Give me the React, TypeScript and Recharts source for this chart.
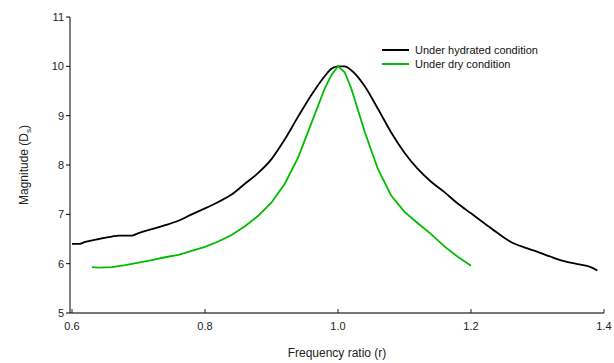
import React from 'react';
import { LineChart, Line, XAxis, YAxis } from 'recharts';

// frequency ratio (r) vs magnitude
const hydratedR = [0.6, 0.61, 0.62, 0.64, 0.66, 0.67, 0.69, 0.7, 0.72, 0.74, 0.76, 0.78, 0.8, 0.82, 0.84, 0.86, 0.88, 0.9, 0.92, 0.94, 0.96, 0.98, 0.99, 1.0, 1.01, 1.02, 1.04, 1.06, 1.08, 1.1, 1.12, 1.14, 1.16, 1.18, 1.2, 1.22, 1.24, 1.26, 1.28, 1.3, 1.32, 1.34, 1.36, 1.38, 1.39];
const hydratedMag = [6.4, 6.4, 6.44, 6.5, 6.55, 6.57, 6.57, 6.62, 6.7, 6.78, 6.87, 7.0, 7.12, 7.25, 7.4, 7.62, 7.84, 8.12, 8.52, 8.98, 9.42, 9.8, 9.95, 10.0, 10.0, 9.92, 9.6, 9.14, 8.66, 8.25, 7.92, 7.66, 7.45, 7.22, 7.02, 6.82, 6.62, 6.44, 6.33, 6.24, 6.14, 6.05, 5.99, 5.93, 5.86];

const dryR = [0.63, 0.64, 0.66, 0.68, 0.7, 0.72, 0.74, 0.76, 0.78, 0.8, 0.82, 0.84, 0.86, 0.88, 0.9, 0.92, 0.94, 0.96, 0.98, 0.99, 1.0, 1.01, 1.02, 1.04, 1.06, 1.08, 1.1, 1.12, 1.14, 1.16, 1.18, 1.2];
const dryMag = [5.93, 5.92, 5.93, 5.97, 6.02, 6.07, 6.13, 6.18, 6.26, 6.34, 6.45, 6.58, 6.76, 6.97, 7.24, 7.62, 8.15, 8.85, 9.55, 9.82, 10.0, 9.88, 9.55, 8.68, 7.92, 7.38, 7.05, 6.82, 6.6, 6.35, 6.14, 5.96];

const xTicks = [0.6, 0.8, 1.0, 1.2, 1.4];
const yTicks = [5, 6, 7, 8, 9, 10, 11];

const seriesNames = ['Under hydrated condition', 'Under dry condition'];
const seriesColors = ['#000000', '#00BB00'];

const hydratedData = hydratedR.map((r, i) => ({ r, mag: hydratedMag[i] }));
const dryData = dryR.map((r, i) => ({ r, mag: dryMag[i] }));

const FONT = 'Liberation Sans, Arial, sans-serif';

const XTick = (props: any) => {
  const { x, y, payload } = props;
  return (
    <g>
      <line x1={x} y1={y} x2={x} y2={y - 4} stroke="#222" strokeWidth={1} />
      <text x={x} y={y + 17} textAnchor="middle" fontSize={11} fontFamily={FONT} fill="#222">
        {payload.value.toFixed(1)}
      </text>
    </g>
  );
};

const LegendBox = () => (
  <div style={{ position: 'absolute', left: 382, top: 43, fontFamily: FONT, fontSize: 11, color: '#111', lineHeight: '14px' }}>
    {seriesNames.map((name, i) => (
      <div key={name} style={{ display: 'flex', alignItems: 'center' }}>
        <div style={{ width: 27, height: 2, background: seriesColors[i], marginRight: 6 }} />
        <span>{name}</span>
      </div>
    ))}
  </div>
);

const YTitle = () => (
  <text transform="translate(28,165) rotate(-90)" textAnchor="middle" fontSize={12} fontFamily={FONT} fill="#222">
    Magnitude (D<tspan fontSize={8} dy={3}>s</tspan>
    <tspan dy={-3}>)</tspan>
  </text>
);

export default function App() {
  return (
    <div style={{ position: 'absolute', left: 0, top: 0, width: 614, height: 363, background: '#fff' }}>
      <LineChart width={614} height={363} margin={{ top: 17, right: 10, bottom: 0, left: 0 }}>
        <XAxis
          dataKey="r"
          type="number"
          domain={[0.6, 1.4]}
          ticks={xTicks}
          allowDataOverflow
          height={50}
          padding={{ left: 2, right: 0 }}
          axisLine={{ stroke: '#777', strokeWidth: 2 }}
          tickLine={false}
          tickSize={0}
          tickMargin={0}
          tick={<XTick />}
          label={{ value: 'Frequency ratio (r)', position: 'insideBottom', offset: 6, fontSize: 12, fontFamily: FONT, fill: '#222' }}
        />
        <YAxis
          dataKey="mag"
          type="number"
          domain={[5, 11]}
          ticks={yTicks}
          width={70}
          axisLine={{ stroke: '#000', strokeWidth: 1 }}
          tickLine={{ stroke: '#000' }}
          tickSize={4}
          tick={{ fontSize: 11, fontFamily: FONT, fill: '#222' }}
          label={{ content: () => <YTitle /> }}
        />
        <Line data={hydratedData} dataKey="mag" type="monotone" stroke={seriesColors[0]} strokeWidth={1.8} dot={false} isAnimationActive={false} name={seriesNames[0]} />
        <Line data={dryData} dataKey="mag" type="linear" stroke={seriesColors[1]} strokeWidth={1.8} dot={false} isAnimationActive={false} name={seriesNames[1]} />
      </LineChart>
      <LegendBox />
    </div>
  );
}
